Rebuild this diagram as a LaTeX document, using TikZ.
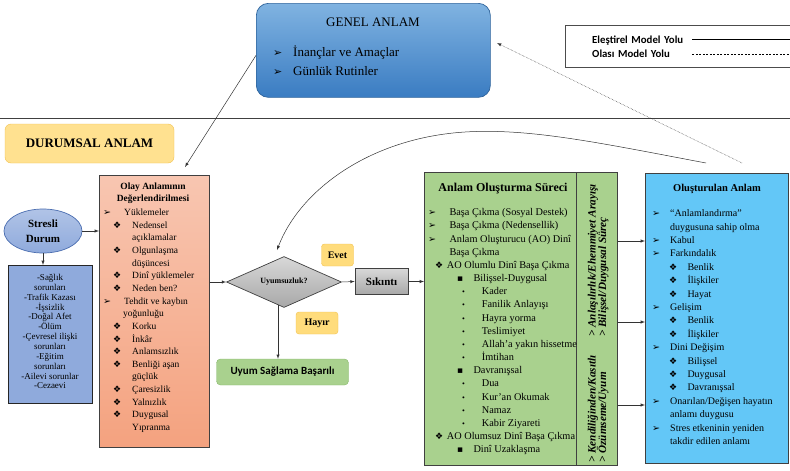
\documentclass[tikz,border=0pt]{standalone}
\usepackage{fontspec}
\setmainfont{Liberation Serif}
\newfontfamily\calfont{Carlito}
\newfontfamily\dvfont{DejaVu Sans}
\usepackage{xcolor}
\usetikzlibrary{positioning,shapes.geometric}

\definecolor{genelust}{HTML}{80B3E1}
\definecolor{genelalt}{HTML}{3A7CC2}
\definecolor{sari}{HTML}{FFDC7C}
\definecolor{sarikenar}{HTML}{F2C14E}
\definecolor{stresrenk}{HTML}{8FAADC}
\definecolor{streskenar}{HTML}{4A6DB0}
\definecolor{somonust}{HTML}{F8C6B1}
\definecolor{somonalt}{HTML}{F4A27F}
\definecolor{griust}{HTML}{D8D8D8}
\definecolor{grialt}{HTML}{A8A8A8}
\definecolor{yesil}{HTML}{A9D18E}
\definecolor{yesilkenar}{HTML}{86B86A}
\definecolor{mavi}{HTML}{63C7F7}
\definecolor{kenar}{HTML}{404040}

\lineskiplimit=-20pt

% madde isaretleri
\newcommand{\ok}[1][9.5]{{\dvfont\fontsize{#1}{#1}\selectfont ➢}}
\newcommand{\kar}{{\dvfont\fontsize{9}{9}\selectfont ❖}}
\newcommand{\kare}{{\dvfont\fontsize{9}{9}\selectfont ▪}}
\newcommand{\nok}{{\fontsize{8}{8}\selectfont •}}
\newcommand{\mad}[4]{\hspace*{#1pt}\makebox[#2pt][l]{#3}#4}
\newcommand{\ilk}[1]{\rule{0pt}{#1pt}}

\begin{document}
\begin{tikzpicture}[%
    x=1pt, y=-1pt,
    >=latex,
    yol/.style={->, line width=0.5pt, draw=black!80},
    kutu/.style={draw=kenar, line width=0.7pt, inner sep=0pt, anchor=north west},
    liste/.style={anchor=north west, align=left, inner sep=0pt},
    etiket/.style={%
      draw=sarikenar,
      fill=sari,
      rounded corners=3pt,
      inner sep=0pt,
      font=\bfseries\fontsize{10}{12}\selectfont
    },
    dikey/.style={%
      rotate=90,
      anchor=base west,
      inner sep=0pt,
      font=\bfseries\itshape\fontsize{11.2}{12}\selectfont
    }
  ]
    \useasboundingbox (0,0) rectangle (790,471);

    % ust kisim
    \node[kutu, draw=genelalt!80!black, rounded corners=12pt, top color=genelust, bottom color=genelalt,
          minimum width=234pt, minimum height=94pt] (genel) at (256,3) {};
    \node[font=\fontsize{13}{15}\selectfont] (genelbaslik) at (373,22) {GENEL ANLAM};
    \node[liste, font=\fontsize{13}{19.3}\selectfont] (genelliste) at (273,44)
      {\ilk{12}\mad{0}{20}{\ok[11]}{İnançlar ve Amaçlar}\\ \mad{0}{20}{\ok[11]}{Günlük Rutinler}};

    \node[kutu, draw=black!70, line width=0.8pt, minimum width=226pt, minimum height=42pt] (lejant) at (565,25) {};
    \node[anchor=west, inner sep=0pt, text width=96pt, align=left, font=\calfont\bfseries\fontsize{10.8}{12}\selectfont]
      (lej1) at (592,41) {Eleştirel Model Yolu};
    \node[anchor=west, inner sep=0pt, text width=96pt, align=left, font=\calfont\bfseries\fontsize{10.8}{12}\selectfont]
      (lej2) at (592,54) {Olası Model Yolu};
    \draw[line width=0.6pt] ([xshift=4pt,yshift=2pt]lej1.east) -- ([yshift=2pt]lej1.east -| lejant.east);
    \draw[line width=0.6pt, dashed, dash pattern=on 2pt off 1.5pt] ([xshift=4pt]lej2.east) -- (lej2.east -| lejant.east);

    \coordinate (cizgisol) at (0,118);
    \coordinate (cizgisag) at (790,118);
    \draw[line width=0.7pt, black!75] (cizgisol) -- (cizgisag);

    % durumsal anlam
    \node[draw=sarikenar, fill=sari!85, rounded corners=6pt, minimum width=169pt, minimum height=39pt,
          font=\bfseries\fontsize{13}{15}\selectfont] (durumsal) at (89.5,143.5) {DURUMSAL ANLAM};

    \node[ellipse, draw=streskenar, line width=0.7pt, top color=stresrenk!70, bottom color=stresrenk,
          minimum width=78pt, minimum height=44pt, inner sep=0pt, align=center,
          font=\bfseries\fontsize{11}{15}\selectfont] (stresli) at (43,231) {Stresli\\Durum};
    \node[kutu, draw=black!85, fill=stresrenk, minimum width=84pt, minimum height=138pt] (sorunlar) at (8,265) {};
    \node[anchor=north, align=center, inner sep=0pt, font=\fontsize{9}{9.85}\selectfont] (sorunliste) at (50,272.3)
      {\ilk{8}-Sağlık\\sorunları\\-Trafik Kazası\\-İşsizlik\\-Doğal Afet\\-Ölüm\\-Çevresel ilişki\\sorunları\\-Eğitim\\sorunları\\-Ailevi sorunlar\\-Cezaevi};

    \node[kutu, top color=somonust, bottom color=somonalt, minimum width=110pt, minimum height=272pt] (olay) at (99,175) {};
    \node[align=center, inner sep=0pt, font=\bfseries\fontsize{9.5}{12}\selectfont] (olaybaslik) at (153,193.3)
      {Olay Anlamının\\Değerlendirilmesi};
    \node[liste, font=\fontsize{9.5}{12.65}\selectfont] (olayliste) at (103,205.3)
      {\ilk{10}\mad{0}{21}{\ok}{Yüklemeler}\\
       \mad{10}{19}{\kar}{Nedensel}\\
       \hspace*{29pt}açıklamalar\\
       \mad{10}{19}{\kar}{Olgunlaşma}\\
       \hspace*{29pt}düşüncesi\\
       \mad{10}{19}{\kar}{Dinî yüklemeler}\\
       \mad{10}{19}{\kar}{Neden ben?}\\
       \mad{0}{21}{\ok}{Tehdit ve kaybın}\\
       \hspace*{20pt}yoğunluğu\\
       \mad{10}{19}{\kar}{Korku}\\
       \mad{10}{19}{\kar}{İnkâr}\\
       \mad{10}{19}{\kar}{Anlamsızlık}\\
       \mad{10}{19}{\kar}{Benliği aşan}\\
       \hspace*{29pt}güçlük\\
       \mad{10}{19}{\kar}{Çaresizlik}\\
       \mad{10}{19}{\kar}{Yalnızlık}\\
       \mad{10}{19}{\kar}{Duygusal}\\
       \hspace*{29pt}Yıpranma};

    % karar
    \node[diamond, draw=kenar, line width=0.7pt, top color=griust, bottom color=grialt, aspect=2.25,
          minimum width=115pt, minimum height=51pt, inner sep=0pt,
          font=\bfseries\fontsize{8}{10}\selectfont] (karar) at (284,282) {Uyumsuzluk?};
    \node[etiket, minimum width=32pt, minimum height=22pt] (evet) at (337.5,255) {Evet};
    \node[etiket, minimum width=42pt, minimum height=22pt] (hayir) at (317,323) {Hayır};
    \node[draw=kenar, line width=0.7pt, top color=griust, bottom color=grialt, minimum width=53pt, minimum height=26pt,
          inner sep=0pt, font=\bfseries\fontsize{11}{13}\selectfont] (sikinti) at (381.5,281.5) {Sıkıntı};
    \node[draw=yesilkenar, fill=yesil, rounded corners=4pt, minimum width=132pt, minimum height=26pt, inner sep=0pt,
          font=\calfont\bfseries\fontsize{11}{13}\selectfont] (uyum) at (282.5,372) {Uyum Sağlama Başarılı};

    % anlam olusturma sureci
    \node[kutu, fill=yesil, minimum width=152pt, minimum height=293pt] (anlam) at (424,172) {};
    \node[kutu, fill=yesil, minimum width=41pt, minimum height=293pt] (serit) at (576,172) {};
    \node[inner sep=0pt, font=\bfseries\fontsize{12}{14}\selectfont] (anlambaslik) at (503,189) {Anlam Oluşturma Süreci};
    \node[liste, font=\fontsize{10.3}{13.17}\selectfont] (anlamliste) at (428,205.5)
      {\ilk{10}\mad{0}{21.3}{\ok}{Başa Çıkma (Sosyal Destek)}\\
       \mad{0}{21.3}{\ok}{Başa Çıkma (Nedensellik)}\\
       \mad{0}{21.3}{\ok}{Anlam Oluşturucu (AO) Dinî}\\
       \hspace*{21.3pt}Başa Çıkma\\
       \mad{7}{11.7}{\kar}{AO Olumlu Dinî Başa Çıkma}\\
       \mad{29}{16.3}{\kare}{Bilişsel-Duygusal}\\
       \mad{34}{19.7}{\nok}{Kader}\\
       \mad{34}{19.7}{\nok}{Fanilik Anlayışı}\\
       \mad{34}{19.7}{\nok}{Hayra yorma}\\
       \mad{34}{19.7}{\nok}{Teslimiyet}\\
       \mad{34}{19.7}{\nok}{Allah’a yakın hissetme}\\
       \mad{34}{19.7}{\nok}{İmtihan}\\
       \mad{29}{16.3}{\kare}{Davranışsal}\\
       \mad{34}{19.7}{\nok}{Dua}\\
       \mad{34}{19.7}{\nok}{Kur’an Okumak}\\
       \mad{34}{19.7}{\nok}{Namaz}\\
       \mad{34}{19.7}{\nok}{Kabir Ziyareti}\\
       \mad{7}{11.7}{\kar}{AO Olumsuz Dinî Başa Çıkma}\\
       \mad{29}{16.3}{\kare}{Dinî Uzaklaşma}};

    \node[dikey] (serit1) at (595.5,337) {> Anlaşılırlık/Ehemmiyet Arayışı};
    \node[dikey] (serit2) at (606,337) {> Bilişsel/Duygusal Süreç};
    \node[dikey] (serit3) at (595.5,463) {> Kendiliğinden/Kasıtlı};
    \node[dikey] (serit4) at (606,463) {> Özümseme/Uyum};

    % olusturulan anlam
    \node[kutu, fill=mavi, minimum width=143pt, minimum height=290pt] (olusan) at (645,173) {};
    \node[inner sep=0pt, font=\bfseries\fontsize{10.5}{12}\selectfont] (olusanbaslik) at (717,189.3) {Oluşturulan Anlam};
    \node[liste, font=\fontsize{10}{13.4}\selectfont] (olusanliste) at (652,206.5)
      {\ilk{10}\mad{0}{18}{\ok}{“Anlamlandırma”}\\
       \hspace*{18pt}duygusuna sahip olma\\
       \mad{0}{18}{\ok}{Kabul}\\
       \mad{0}{18}{\ok}{Farkındalık}\\
       \mad{17}{18.3}{\kar}{Benlik}\\
       \mad{17}{18.3}{\kar}{İlişkiler}\\
       \mad{17}{18.3}{\kar}{Hayat}\\
       \mad{0}{18}{\ok}{Gelişim}\\
       \mad{17}{18.3}{\kar}{Benlik}\\
       \mad{17}{18.3}{\kar}{İlişkiler}\\
       \mad{0}{18}{\ok}{Dini Değişim}\\
       \mad{17}{18.3}{\kar}{Bilişsel}\\
       \mad{17}{18.3}{\kar}{Duygusal}\\
       \mad{17}{18.3}{\kar}{Davranışsal}\\
       \mad{0}{18}{\ok}{Onarılan/Değişen hayatın}\\
       \hspace*{18pt}anlamı duygusu\\
       \mad{0}{18}{\ok}{Stres etkeninin yeniden}\\
       \hspace*{18pt}takdir edilen anlamı};

    % baglantilar
    \coordinate (olayust) at (185,167);
    \coordinate (egribas) at (706,163);
    \coordinate (egrison) at (277,250);
    \coordinate (noktabas) at (742,163);
    \coordinate (noktason) at (497,43);
    \coordinate (k1) at (0,241);
    \coordinate (k2) at (0,322);
    \coordinate (k3) at (0,405);

    \draw[yol] ([yshift=-5pt]genel.west) -- (olayust);
    \draw[yol, densely dotted] (noktabas) -- (noktason);
    \draw[yol] (egribas) .. controls (600,143) and (530,128) .. (465,132)
                         .. controls (370,138) and (300,190) .. (egrison);
    \draw[yol] (stresli) -- (stresli -| olay.west);
    \draw[yol] (stresli) -- (stresli |- sorunlar.north);
    \draw[yol] (olay.east |- karar.west) -- (karar.west);
    \draw[yol] (karar.east) -- (sikinti.west);
    \draw[yol] (sikinti.east) -- (sikinti.east -| anlam.west);
    \draw[yol] ([xshift=-6pt,yshift=3pt]karar.south) -- ([xshift=-6pt]karar.south |- uyum.north);
    \foreach \k in {k1,k2,k3}
      \draw[yol] (serit.east |- \k) -- (olusan.west |- \k);
\end{tikzpicture}
\end{document}
